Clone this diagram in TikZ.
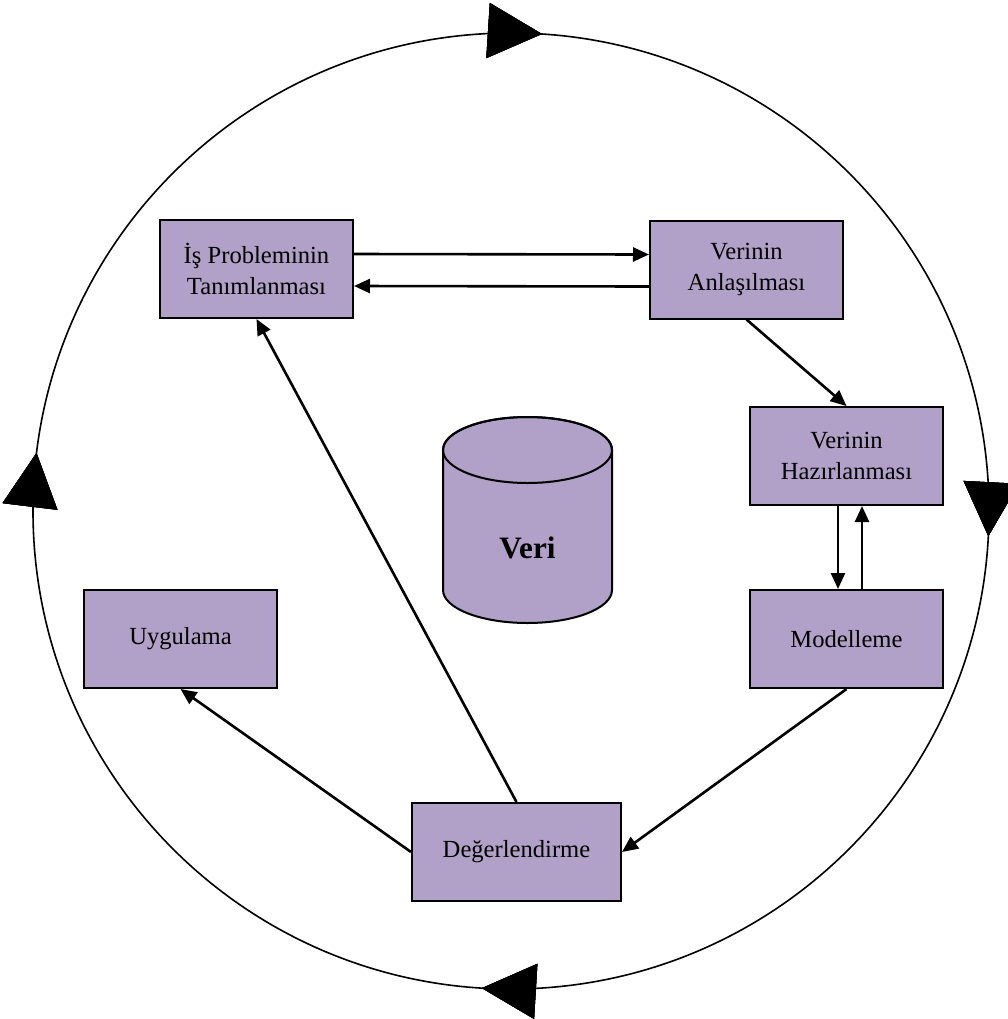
\documentclass[tikz,border=0pt]{standalone}
\usepackage{fontspec}
\setmainfont{Liberation Serif}
\usepackage{tikz}
\usetikzlibrary{arrows.meta, decorations.markings}
\usepackage{xcolor}
\definecolor{boxfill}{RGB}{177,160,199}

\begin{document}
\begin{tikzpicture}[x=0.5pt, y=0.5pt, >={Triangle[length=8pt, width=7pt]},
  asama/.style={draw, line width=1pt, fill=boxfill, inner sep=0pt,
    minimum width=96.5pt, minimum height=49pt, align=center,
    font=\fontsize{12.3}{15.5}\selectfont},
  link/.style={->, line width=1.3pt},
  bigtip/.style={decoration={markings, mark=at position #1 with
    {\arrow{Triangle[length=27pt, width=27.5pt]}}}, postaction={decorate}}]
  \useasboundingbox (0,0) rectangle (1008,-1019);

  % Outer cycle
  \coordinate (cc) at (511,-511);
  \draw[line width=0.8pt, bigtip=0.0103, bigtip=0.2584, bigtip=0.5097, bigtip=0.7694]
    (cc) ++(90:478) arc[start angle=90, end angle=-270, radius=478];

  % Phases
  \node[asama] (problem) at (256.5,-269) {İş Probleminin\\Tanımlanması};
  \node[asama] (anlama) at (746.5,-269.5) {Verinin\\Anlaşılması};
  \node[asama] (hazirlama) at (846.5,-456) {Verinin\\Hazırlanması};
  \node[asama] (modelleme) at (846.5,-639) {Modelleme};
  \node[asama] (uygulama) at (180.5,-639) {Uygulama};
  \node[asama, minimum width=104.5pt] (degerlendirme) at (516.5,-852) {Değerlendirme};

  % Data store
  \filldraw[fill=boxfill, line width=1pt] (443,-450) -- (443,-590)
    arc[start angle=180, end angle=360, x radius=84.5, y radius=33] -- (612,-450)
    arc[start angle=0, end angle=180, x radius=84.5, y radius=33] -- cycle;
  \draw[line width=1pt] (527.5,-450) ellipse [x radius=84.5, y radius=33];
  \node[font=\fontsize{15.6}{18}\selectfont\bfseries] (veri) at (527.5,-548) {Veri};

  % Links
  \draw[link] ([yshift=7.5pt]problem.east) -- ([yshift=7.5pt]anlama.west);
  \draw[link] ([yshift=-8.5pt]anlama.west) -- ([yshift=-8.5pt]problem.east);
  \draw[link] (anlama.south) -- (hazirlama.north);
  \draw[link] ([xshift=-4.25pt]hazirlama.south) -- ([xshift=-4.25pt]modelleme.north);
  \draw[link] ([xshift=7.75pt]modelleme.north) -- ([xshift=7.75pt]hazirlama.south);
  \draw[link] (modelleme.south) -- (degerlendirme.east);
  \draw[link] (degerlendirme.west) -- (uygulama.south);
  \draw[link] (degerlendirme.north) -- (problem.south);

\end{tikzpicture}
\end{document}
